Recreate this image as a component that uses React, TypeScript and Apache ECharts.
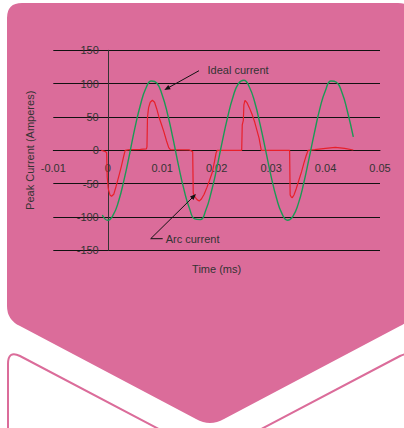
import React, { useEffect, useRef } from 'react';
import * as echarts from 'echarts';

// Axis ticks
const timeTicks = [-0.01, 0, 0.01, 0.02, 0.03, 0.04, 0.05];
const currentTicks = [-150, -100, -50, 0, 50, 100, 150];

// Ideal current (green)
const idealTime = [
  -0.001, 0.0, 0.001, 0.002, 0.003, 0.004, 0.005, 0.006, 0.007, 0.008, 0.009, 0.01,
  0.011, 0.012, 0.013, 0.014, 0.015, 0.016, 0.017, 0.018, 0.019, 0.02, 0.021, 0.022,
  0.023, 0.024, 0.025, 0.026, 0.027, 0.028, 0.029, 0.03, 0.031, 0.032, 0.033, 0.034,
  0.035, 0.036, 0.037, 0.038, 0.039, 0.04, 0.041, 0.042, 0.043, 0.044, 0.0451,
];
const idealCurrent = [
  -97, -105, -97, -76, -44, -6, 34, 68, 93, 104, 101, 83,
  54, 17, -23, -59, -87, -103, -104, -90, -63, -28, 12, 49,
  80, 100, 105, 95, 72, 38, 0, -39, -72, -95, -105, -99,
  -80, -49, -11, 28, 64, 90, 104, 102, 87, 59, 20,
];

// Arc current (red)
const arcTime = [
  -0.0012, -0.0004, -0.0002, -0.0001, 0.0001, 0.0004, 0.0007, 0.0011, 0.0015, 0.002,
  0.0025, 0.0029, 0.0032, 0.004, 0.006, 0.0071, 0.0072, 0.0073, 0.0075, 0.0078,
  0.0082, 0.0086, 0.009, 0.0094, 0.0099, 0.0103, 0.0108, 0.0112, 0.0115, 0.015,
  0.0156, 0.0157, 0.016, 0.0164, 0.0168, 0.0172, 0.0177, 0.0182, 0.0187, 0.0192,
  0.0196, 0.0199, 0.0201, 0.0246, 0.0247, 0.0249, 0.025, 0.0252, 0.0256, 0.026,
  0.0265, 0.027, 0.0274, 0.0278, 0.028, 0.0282, 0.0334, 0.0335, 0.0337, 0.0339,
  0.0342, 0.0346, 0.0351, 0.0356, 0.036, 0.0364, 0.0368, 0.038, 0.04, 0.0418,
  0.0435, 0.0451,
];
const arcCurrent = [
  0, -2, -4, -40, -58, -67, -69, -66, -55, -40,
  -24, -10, 0, 1, 1.5, 2, 5, 50, 64, 72,
  75, 72, 62, 50, 38, 28, 14, 4, 1, 0.5,
  -2, -64, -70, -74, -76, -73, -66, -56, -45, -33,
  -17, -4, 0, 0, 38, 45, 68, 75, 71, 64,
  54, 42, 30, 18, 9, 0, 0, -67, -70, -71,
  -67, -58, -45, -32, -20, -9, 0, 1, 3, 4.5,
  3, 0.5,
];

const PINK = '#DB6C9A';
const FONT = '"Liberation Sans", Arial, Helvetica, sans-serif';
const TEXT = '#333';

const GRID_LEFT = 53.3;
const GRID_RIGHT = 24;
const GRID_TOP = 50.3;
const GRID_BOTTOM = 177.7;
const CHART_W = 404;
const CHART_H = 428;

const TOP_PATH =
  'M 7 18 Q 7 3 22 3 L 398 3 Q 413 3 413 18 L 413 306 Q 413 320 400 326 L 224 419 Q 210 427 196 419 L 20 326 Q 7 320 7 306 Z';
const BOTTOM_PATH =
  'M 8 440 L 8 364 Q 8 350 20 356 L 210 456 L 400 356 Q 412 350 412 364 L 412 440 Z';

export default function App() {
  const ref = useRef<HTMLDivElement>(null);

  useEffect(() => {
    if (!ref.current) return;
    echarts.graphic.registerShape('topChevron', echarts.graphic.extendPath(TOP_PATH, {}));
    echarts.graphic.registerShape('bottomChevron', echarts.graphic.extendPath(BOTTOM_PATH, {}));
    const chart = echarts.init(ref.current, undefined, { renderer: 'svg' });

    const ideal = idealTime.map((t, i) => [t, idealCurrent[i]]);
    const arc = arcTime.map((t, i) => [t, arcCurrent[i]]);

    // place the axes where they cross zero (labels and names move with them)
    const xMin = timeTicks[0];
    const xMax = timeTicks[timeTicks.length - 1];
    const yMin = currentTicks[0];
    const yMax = currentTicks[currentTicks.length - 1];
    const plotW = CHART_W - GRID_LEFT - GRID_RIGHT;
    const plotH = CHART_H - GRID_TOP - GRID_BOTTOM;
    const yAxisOffset = -((0 - xMin) / (xMax - xMin)) * plotW;
    const xAxisOffset = -((0 - yMin) / (yMax - yMin)) * plotH;

    chart.setOption({
      animation: false,
      backgroundColor: '#ffffff',
      textStyle: { fontFamily: FONT },
      grid: {
        left: GRID_LEFT,
        right: GRID_RIGHT,
        top: GRID_TOP,
        bottom: GRID_BOTTOM,
        containLabel: false,
        outerBoundsMode: 'none',
      },
      xAxis: {
        type: 'value',
        min: xMin,
        max: xMax,
        interval: timeTicks[1] - timeTicks[0],
        offset: xAxisOffset,
        name: 'Time (ms)',
        nameLocation: 'middle',
        nameGap: 113,
        nameTextStyle: { color: TEXT, fontSize: 11, fontFamily: FONT },
        axisLine: { show: true, onZero: false, lineStyle: { color: '#111', width: 1 } },
        axisTick: { show: false },
        splitLine: { show: false },
        axisLabel: {
          color: TEXT,
          fontSize: 11,
          fontFamily: FONT,
          margin: 12,
          formatter: (v: number) => String(Math.round(v * 100) / 100),
        },
      },
      yAxis: {
        type: 'value',
        min: yMin,
        max: yMax,
        interval: currentTicks[1] - currentTicks[0],
        offset: yAxisOffset,
        name: 'Peak Current (Amperes)',
        nameLocation: 'middle',
        nameGap: 72,
        nameTextStyle: { color: TEXT, fontSize: 11, fontFamily: FONT },
        axisLine: { show: true, onZero: false, lineStyle: { color: '#333', width: 1 } },
        axisTick: { show: false },
        splitLine: { show: true, lineStyle: { color: '#111', width: 1 } },
        axisLabel: { color: TEXT, fontSize: 11, fontFamily: FONT, margin: 9 },
      },
      graphic: [
        {
          type: 'topChevron',
          x: 0,
          y: 0,
          z: -10,
          silent: true,
          style: { fill: PINK, stroke: 'none' },
        },
        {
          type: 'bottomChevron',
          x: 0,
          y: 0,
          z: -10,
          silent: true,
          style: { fill: '#ffffff', stroke: PINK, lineWidth: 2 },
        },
        {
          type: 'text',
          z: 10,
          style: {
            text: 'Ideal current',
            x: 207.5,
            y: 69.5,
            fill: TEXT,
            fontSize: 11,
            fontFamily: FONT,
            verticalAlign: 'middle',
            align: 'left',
          },
        },
        {
          type: 'line',
          z: 10,
          shape: { x1: 199, y1: 70.7, x2: 167.5, y2: 88.2 },
          style: { stroke: '#111', lineWidth: 1 },
        },
        {
          type: 'polygon',
          z: 10,
          shape: { points: [[164.3, 90], [170.7, 89.3], [168.3, 84.9]] },
          style: { fill: '#111' },
        },
        {
          type: 'text',
          z: 10,
          style: {
            text: 'Arc current',
            x: 165.7,
            y: 238.5,
            fill: TEXT,
            fontSize: 11,
            fontFamily: FONT,
            verticalAlign: 'middle',
            align: 'left',
          },
        },
        {
          type: 'polyline',
          z: 10,
          shape: { points: [[162.7, 238.7], [150.7, 238.7], [192, 198]] },
          style: { stroke: '#111', lineWidth: 1, fill: 'none' },
        },
        {
          type: 'polygon',
          z: 10,
          shape: { points: [[196, 194], [193.5, 200], [190, 196.4]] },
          style: { fill: '#111' },
        },
      ],
      series: [
        {
          name: 'Arc current',
          type: 'line',
          data: arc,
          showSymbol: false,
          symbol: 'none',
          lineStyle: { color: '#E8202A', width: 1.2 },
          z: 3,
        },
        {
          name: 'Ideal current',
          type: 'line',
          data: ideal,
          smooth: 0.5,
          showSymbol: false,
          symbol: 'none',
          lineStyle: { color: '#1A9A55', width: 1.4 },
          z: 4,
        },
      ],
    });

    return () => chart.dispose();
  }, []);

  return (
    <div
      ref={ref}
      style={{ position: 'absolute', left: 0, top: 0, width: CHART_W, height: CHART_H }}
    />
  );
}
